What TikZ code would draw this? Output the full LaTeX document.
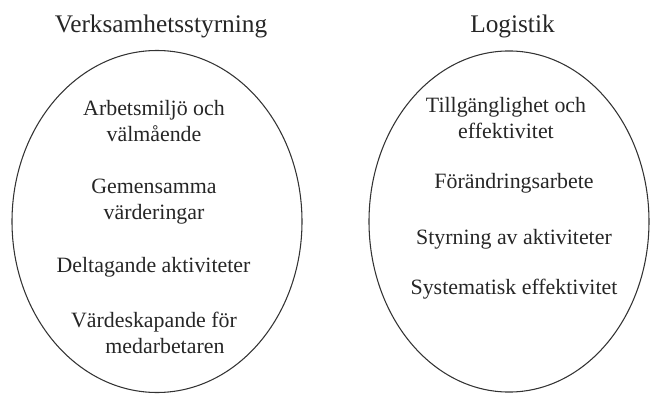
\documentclass[tikz,border=0pt]{standalone}
\usepackage{fontspec}
\setmainfont{Liberation Serif}
\begin{document}
\begin{tikzpicture}
[
x=0.75pt, y=-0.75pt,
Title/.style={inner sep=0pt, anchor=base, font=\fontsize{19}{22}\selectfont, text=black!85},
Item/.style={inner sep=0pt, anchor=base, align=center, font=\fontsize{16.4}{19.5}\selectfont, text=black!85},
Oval/.style={draw=black!80, line width=0.8pt},
]

\useasboundingbox (0,0) rectangle (651,396);

\draw[Oval] (157,221.5) ellipse [x radius=108.75pt, y radius=128.25pt];
\draw[Oval] (509,221.5) ellipse [x radius=105pt, y radius=127.9pt];

\node[Title] (verk) at (161,32) {Verksamhetsstyrning};
\node[Title] (logistik) at (512.5,32) {Logistik};

% base anchor sits on the last line
\node[Item] (arbetsmiljo) at (154,141) {Arbetsmiljö och\\välmående};
\node[Item] (gemensamma) at (154,219) {Gemensamma\\värderingar};
\node[Item] (deltagande) at (153.5,272) {Deltagande aktiviteter};
\node[Item] (vardeskapande) at (154,353) {Värdeskapande för\\\hspace*{1em}medarbetaren};

\node[Item] (tillganglighet) at (506,138) {Tillgänglighet och\\effektivitet};
\node[Item] (forandring) at (514,188) {Förändringsarbete};
\node[Item] (styrning) at (514,244) {Styrning av aktiviteter};
\node[Item] (systematisk) at (514,294) {Systematisk effektivitet};

\end{tikzpicture}
\end{document}
